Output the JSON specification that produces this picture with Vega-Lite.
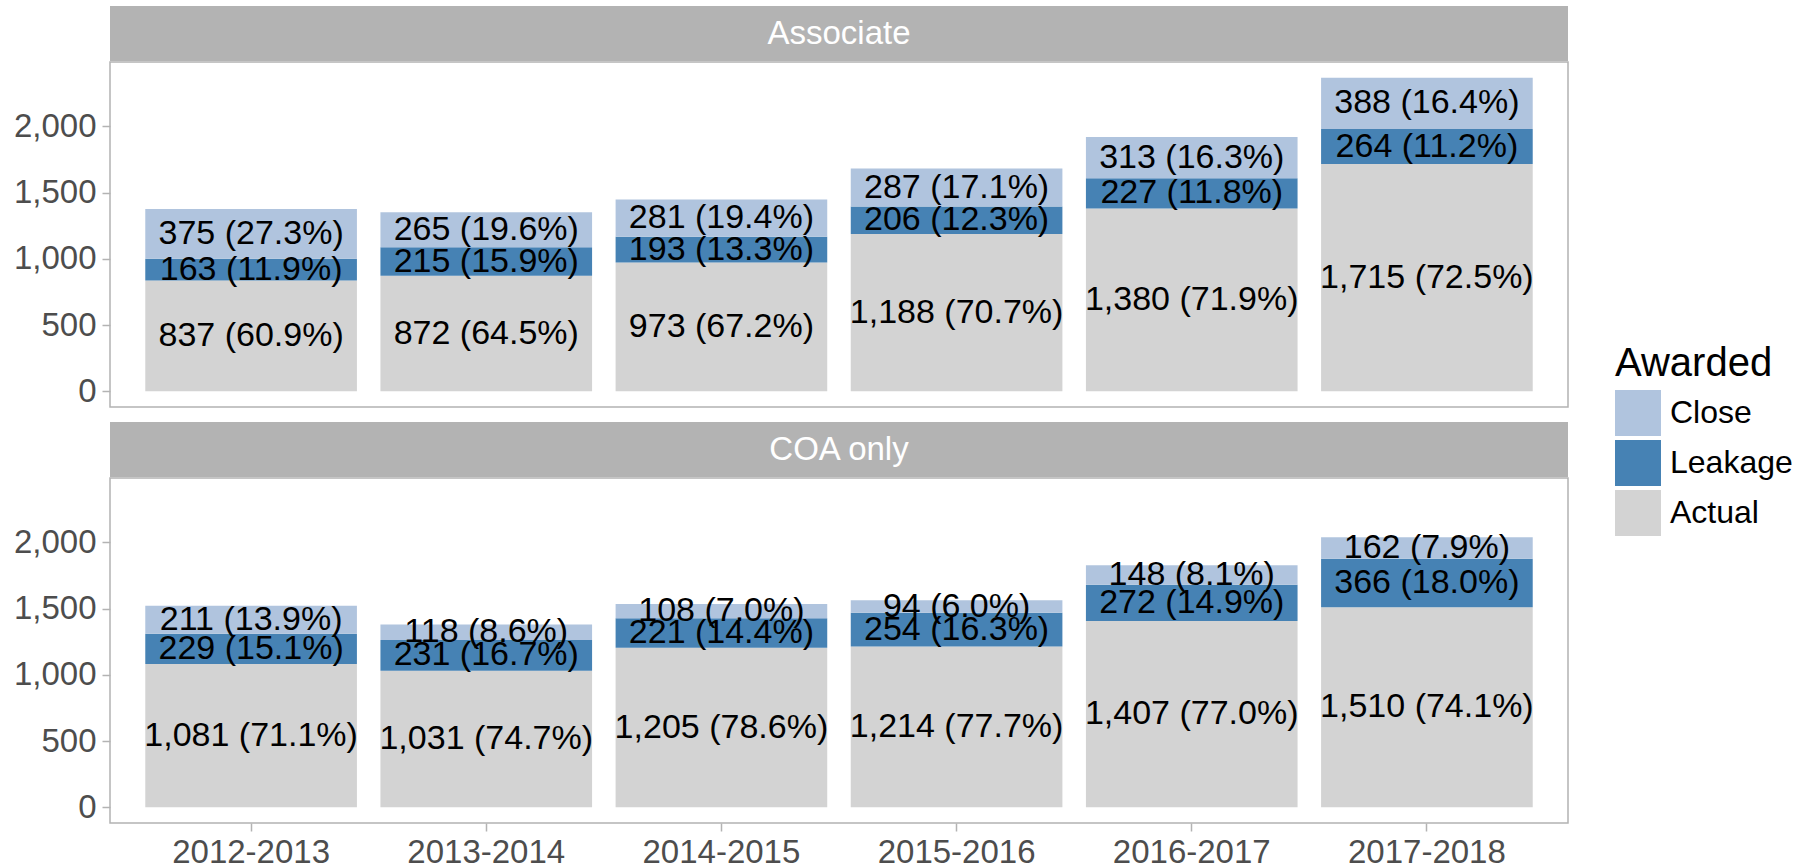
{
  "$schema": "https://vega.github.io/schema/vega-lite/v6.json",
  "padding": {"left": 12, "top": 6, "right": 0, "bottom": 0},
  "background": "white",
  "spacing": 12,
  "datasets": {
    "strips": [{"panel": "Associate"}, {"panel": "COA only"}],
    "bars": [
      {"panel": "Associate", "year": "2012-2013", "Awarded": "Actual", "rank": 1, "value": 837, "label": "837 (60.9%)"},
      {"panel": "Associate", "year": "2012-2013", "Awarded": "Leakage", "rank": 2, "value": 163, "label": "163 (11.9%)"},
      {"panel": "Associate", "year": "2012-2013", "Awarded": "Close", "rank": 3, "value": 375, "label": "375 (27.3%)"},
      {"panel": "Associate", "year": "2013-2014", "Awarded": "Actual", "rank": 1, "value": 872, "label": "872 (64.5%)"},
      {"panel": "Associate", "year": "2013-2014", "Awarded": "Leakage", "rank": 2, "value": 215, "label": "215 (15.9%)"},
      {"panel": "Associate", "year": "2013-2014", "Awarded": "Close", "rank": 3, "value": 265, "label": "265 (19.6%)"},
      {"panel": "Associate", "year": "2014-2015", "Awarded": "Actual", "rank": 1, "value": 973, "label": "973 (67.2%)"},
      {"panel": "Associate", "year": "2014-2015", "Awarded": "Leakage", "rank": 2, "value": 193, "label": "193 (13.3%)"},
      {"panel": "Associate", "year": "2014-2015", "Awarded": "Close", "rank": 3, "value": 281, "label": "281 (19.4%)"},
      {"panel": "Associate", "year": "2015-2016", "Awarded": "Actual", "rank": 1, "value": 1188, "label": "1,188 (70.7%)"},
      {"panel": "Associate", "year": "2015-2016", "Awarded": "Leakage", "rank": 2, "value": 206, "label": "206 (12.3%)"},
      {"panel": "Associate", "year": "2015-2016", "Awarded": "Close", "rank": 3, "value": 287, "label": "287 (17.1%)"},
      {"panel": "Associate", "year": "2016-2017", "Awarded": "Actual", "rank": 1, "value": 1380, "label": "1,380 (71.9%)"},
      {"panel": "Associate", "year": "2016-2017", "Awarded": "Leakage", "rank": 2, "value": 227, "label": "227 (11.8%)"},
      {"panel": "Associate", "year": "2016-2017", "Awarded": "Close", "rank": 3, "value": 313, "label": "313 (16.3%)"},
      {"panel": "Associate", "year": "2017-2018", "Awarded": "Actual", "rank": 1, "value": 1715, "label": "1,715 (72.5%)"},
      {"panel": "Associate", "year": "2017-2018", "Awarded": "Leakage", "rank": 2, "value": 264, "label": "264 (11.2%)"},
      {"panel": "Associate", "year": "2017-2018", "Awarded": "Close", "rank": 3, "value": 388, "label": "388 (16.4%)"},
      {"panel": "COA only", "year": "2012-2013", "Awarded": "Actual", "rank": 1, "value": 1081, "label": "1,081 (71.1%)"},
      {"panel": "COA only", "year": "2012-2013", "Awarded": "Leakage", "rank": 2, "value": 229, "label": "229 (15.1%)"},
      {"panel": "COA only", "year": "2012-2013", "Awarded": "Close", "rank": 3, "value": 211, "label": "211 (13.9%)"},
      {"panel": "COA only", "year": "2013-2014", "Awarded": "Actual", "rank": 1, "value": 1031, "label": "1,031 (74.7%)"},
      {"panel": "COA only", "year": "2013-2014", "Awarded": "Leakage", "rank": 2, "value": 231, "label": "231 (16.7%)"},
      {"panel": "COA only", "year": "2013-2014", "Awarded": "Close", "rank": 3, "value": 118, "label": "118 (8.6%)"},
      {"panel": "COA only", "year": "2014-2015", "Awarded": "Actual", "rank": 1, "value": 1205, "label": "1,205 (78.6%)"},
      {"panel": "COA only", "year": "2014-2015", "Awarded": "Leakage", "rank": 2, "value": 221, "label": "221 (14.4%)"},
      {"panel": "COA only", "year": "2014-2015", "Awarded": "Close", "rank": 3, "value": 108, "label": "108 (7.0%)"},
      {"panel": "COA only", "year": "2015-2016", "Awarded": "Actual", "rank": 1, "value": 1214, "label": "1,214 (77.7%)"},
      {"panel": "COA only", "year": "2015-2016", "Awarded": "Leakage", "rank": 2, "value": 254, "label": "254 (16.3%)"},
      {"panel": "COA only", "year": "2015-2016", "Awarded": "Close", "rank": 3, "value": 94, "label": "94 (6.0%)"},
      {"panel": "COA only", "year": "2016-2017", "Awarded": "Actual", "rank": 1, "value": 1407, "label": "1,407 (77.0%)"},
      {"panel": "COA only", "year": "2016-2017", "Awarded": "Leakage", "rank": 2, "value": 272, "label": "272 (14.9%)"},
      {"panel": "COA only", "year": "2016-2017", "Awarded": "Close", "rank": 3, "value": 148, "label": "148 (8.1%)"},
      {"panel": "COA only", "year": "2017-2018", "Awarded": "Actual", "rank": 1, "value": 1510, "label": "1,510 (74.1%)"},
      {"panel": "COA only", "year": "2017-2018", "Awarded": "Leakage", "rank": 2, "value": 366, "label": "366 (18.0%)"},
      {"panel": "COA only", "year": "2017-2018", "Awarded": "Close", "rank": 3, "value": 162, "label": "162 (7.9%)"}
    ]
  },
  "config": {
    "font": "Liberation Sans",
    "view": {"stroke": "#B3B3B3", "strokeWidth": 1.5},
    "axis": {
      "labelFont": "Liberation Sans",
      "labelFontSize": 33,
      "labelColor": "#4D4D4D",
      "tickColor": "#B3B3B3",
      "tickSize": 8,
      "tickWidth": 1.5,
      "domain": false,
      "grid": false,
      "title": null,
      "labelPadding": 6
    },
    "legend": {
      "orient": "none",
      "legendX": 1505,
      "legendY": 338,
      "titleFont": "Liberation Sans",
      "titleFontSize": 40,
      "titleFontWeight": "normal",
      "titleColor": "black",
      "titlePadding": 6,
      "labelFont": "Liberation Sans",
      "labelFontSize": 32,
      "labelColor": "black",
      "labelOffset": 9,
      "symbolType": "square",
      "symbolSize": 2116,
      "symbolStrokeWidth": 0,
      "symbolOpacity": 1,
      "rowPadding": 4
    }
  },
  "vconcat": [
    {
      "spacing": 0,
      "vconcat": [
        {
          "data": {"name": "strips"},
          "transform": [{"filter": "datum.panel === 'Associate'"}],
          "width": 1458,
          "height": 55,
          "view": {"stroke": null},
          "encoding": {
            "x": {"field": "panel", "type": "nominal", "axis": null, "scale": {"paddingInner": 0, "paddingOuter": 0}},
            "y": {"field": "panel", "type": "nominal", "axis": null, "scale": {"paddingInner": 0, "paddingOuter": 0}}
          },
          "layer": [
            {"mark": {"type": "rect", "fill": "#B3B3B3"}},
            {"mark": {"type": "text", "color": "white", "fontSize": 33}, "encoding": {"text": {"field": "panel"}}}
          ]
        },
        {
          "data": {"name": "bars"},
          "transform": [{"filter": "datum.panel === 'Associate'"}],
          "width": 1458,
          "height": 345,
          "encoding": {
            "x": {"field": "year", "type": "nominal", "sort": null, "scale": {"paddingInner": 0.1, "paddingOuter": 0.15}, "axis": null},
            "order": {"field": "rank", "type": "quantitative"}
          },
          "layer": [
            {
              "mark": {"type": "bar"},
              "encoding": {
                "y": {"field": "value", "type": "quantitative", "stack": "zero", "scale": {"domain": [-118, 2485], "nice": false, "zero": false}, "axis": {"values": [0, 500, 1000, 1500, 2000], "format": ",.0f"}},
                "color": {"field": "Awarded", "type": "nominal", "scale": {"domain": ["Close", "Leakage", "Actual"], "range": ["#B0C4DE", "#4682B4", "#D3D3D3"]}, "legend": {"title": "Awarded"}}
              }
            },
            {
              "mark": {"type": "text", "fontSize": 34, "color": "black"},
              "encoding": {
                "y": {"field": "value", "type": "quantitative", "stack": "zero", "bandPosition": 0.5, "scale": {"domain": [-118, 2485], "nice": false, "zero": false}},
                "detail": {"field": "Awarded"},
                "text": {"field": "label"}
              }
            }
          ]
        }
      ]
    },
    {
      "spacing": 0,
      "vconcat": [
        {
          "data": {"name": "strips"},
          "transform": [{"filter": "datum.panel === 'COA only'"}],
          "width": 1458,
          "height": 55,
          "view": {"stroke": null},
          "encoding": {
            "x": {"field": "panel", "type": "nominal", "axis": null, "scale": {"paddingInner": 0, "paddingOuter": 0}},
            "y": {"field": "panel", "type": "nominal", "axis": null, "scale": {"paddingInner": 0, "paddingOuter": 0}}
          },
          "layer": [
            {"mark": {"type": "rect", "fill": "#B3B3B3"}},
            {"mark": {"type": "text", "color": "white", "fontSize": 33}, "encoding": {"text": {"field": "panel"}}}
          ]
        },
        {
          "data": {"name": "bars"},
          "transform": [{"filter": "datum.panel === 'COA only'"}],
          "width": 1458,
          "height": 345,
          "encoding": {
            "x": {"field": "year", "type": "nominal", "sort": null, "scale": {"paddingInner": 0.1, "paddingOuter": 0.15}, "axis": {"labelAngle": 0, "labelPadding": 5}},
            "order": {"field": "rank", "type": "quantitative"}
          },
          "layer": [
            {
              "mark": {"type": "bar"},
              "encoding": {
                "y": {"field": "value", "type": "quantitative", "stack": "zero", "scale": {"domain": [-118, 2485], "nice": false, "zero": false}, "axis": {"values": [0, 500, 1000, 1500, 2000], "format": ",.0f"}},
                "color": {"field": "Awarded", "type": "nominal", "scale": {"domain": ["Close", "Leakage", "Actual"], "range": ["#B0C4DE", "#4682B4", "#D3D3D3"]}, "legend": {"title": "Awarded"}}
              }
            },
            {
              "mark": {"type": "text", "fontSize": 34, "color": "black"},
              "encoding": {
                "y": {"field": "value", "type": "quantitative", "stack": "zero", "bandPosition": 0.5, "scale": {"domain": [-118, 2485], "nice": false, "zero": false}},
                "detail": {"field": "Awarded"},
                "text": {"field": "label"}
              }
            }
          ]
        }
      ]
    }
  ]
}
